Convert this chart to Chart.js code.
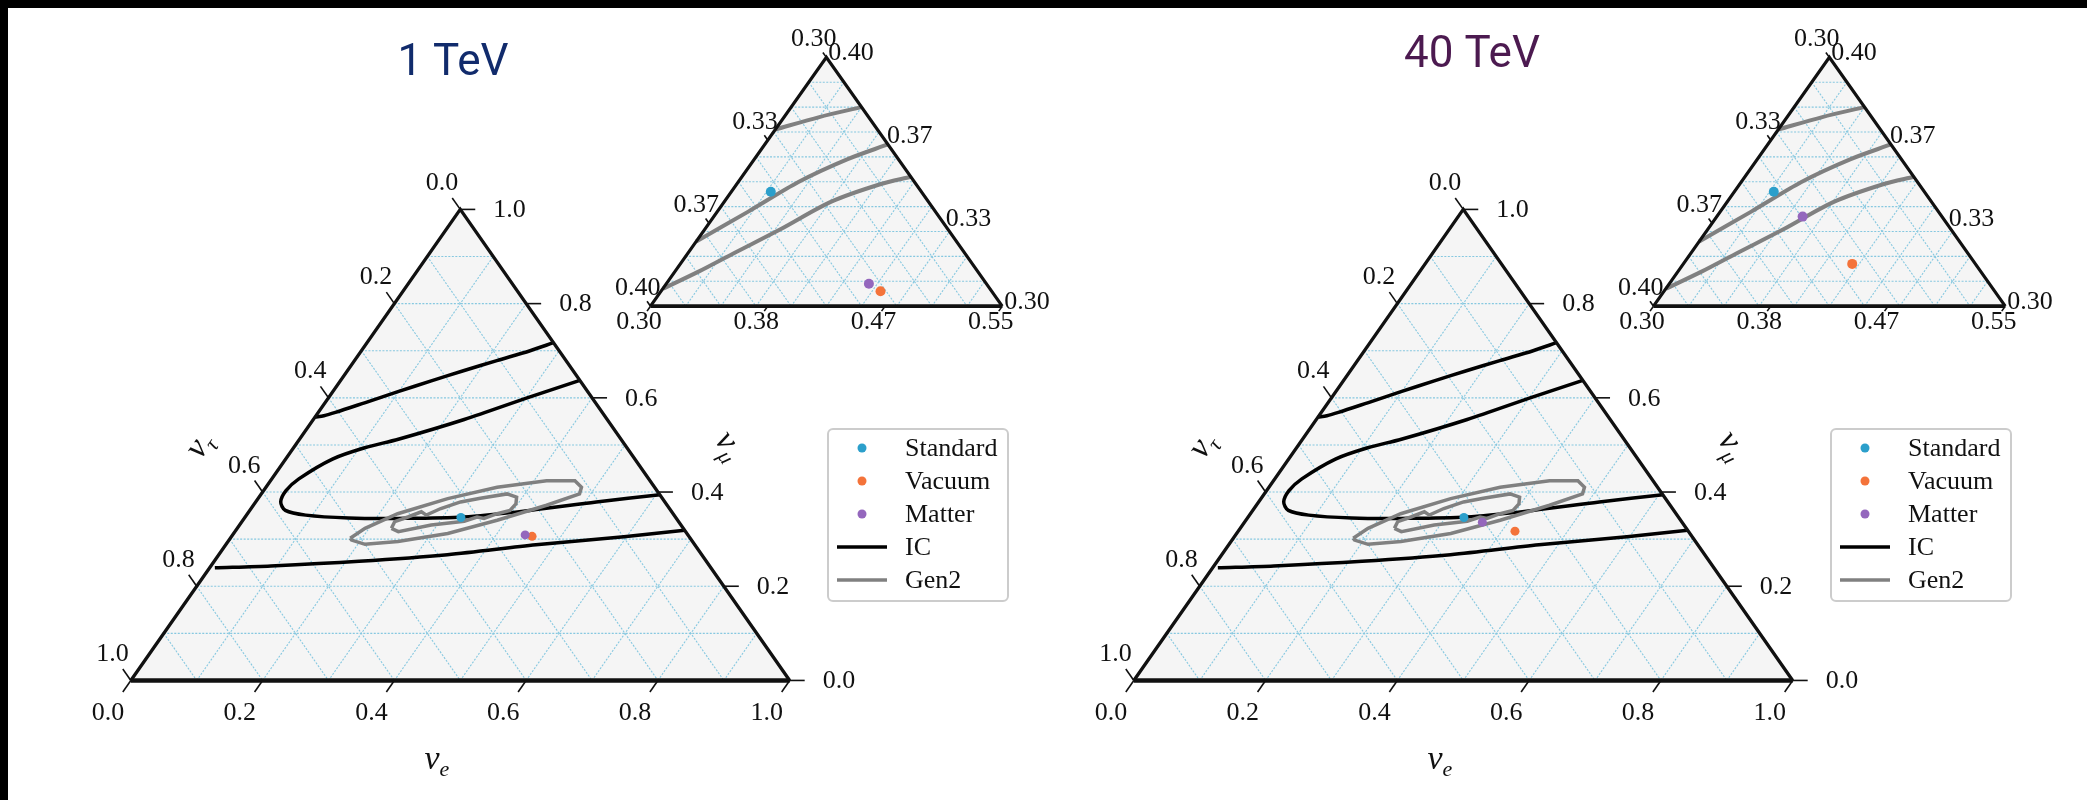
<!DOCTYPE html>
<html>
<head>
<meta charset="utf-8">
<script src="https://cdn.jsdelivr.net/npm/chart.js@4.4.1/dist/chart.umd.min.js"></script>
<style>
html, body { margin: 0; padding: 0; background: #fff; }
#page { position: relative; width: 2087px; height: 800px; overflow: hidden; background: #fff; }
#topbar { position: absolute; left: 0; top: 0; width: 2087px; height: 8px; background: #000; }
#leftbar { position: absolute; left: 0; top: 0; width: 8px; height: 800px; background: #000; }
canvas { position: absolute; top: 0; }
</style>
</head>
<body>
<div id="page">
  <canvas id="c0" width="1084" height="800" style="left:0px"></canvas>
  <canvas id="c1" width="1084" height="800" style="left:1003px"></canvas>
  <div id="topbar"></div>
  <div id="leftbar"></div>
</div>
<script>
// flavour compositions are [nu_e, nu_mu]; nu_tau = 1 - nu_e - nu_mu
const panelTitles = ['1 TeV', '40 TeV']
const titleColors = ['#112b6c', '#4c1a50']
const standardPts = [[0.328, 0.346], [0.328, 0.346]]
const vacuumPts = [[0.456, 0.306], [0.420, 0.317]]
const matterPts = [[0.444, 0.309], [0.361, 0.336]]

const mainTicks = [0.0, 0.2, 0.4, 0.6, 0.8, 1.0]
const insetETicks = [0.30, 0.3833, 0.4667, 0.55]
const insetTauTicks = [0.30, 0.3333, 0.3667, 0.40]
const insetMuTicks = [0.30, 0.3333, 0.3667, 0.40]
const insetERange = [0.30, 0.55]
const insetMuRange = [0.30, 0.40]

// IceCube contours
const icUpper = [[0.000, 0.559], [0.012, 0.562], [0.026, 0.569], [0.061, 0.590], [0.099, 0.613], [0.138, 0.636],
    [0.177, 0.658], [0.216, 0.679], [0.256, 0.700], [0.283, 0.717]]
const icInner = [[0.363, 0.637], [0.305, 0.602], [0.229, 0.554], [0.150, 0.512], [0.108, 0.494], [0.071, 0.470],
    [0.041, 0.428], [0.034, 0.403], [0.038, 0.379], [0.054, 0.361], [0.090, 0.351], [0.158, 0.345],
    [0.234, 0.344], [0.332, 0.347], [0.425, 0.361], [0.517, 0.379], [0.606, 0.394]]
const icLower = [[0.008, 0.239], [0.091, 0.243], [0.220, 0.253], [0.347, 0.267], [0.471, 0.288], [0.596, 0.305], [0.681, 0.319]]

// Gen2 contours
const gen2Outer = [[0.182, 0.302], [0.194, 0.323], [0.228, 0.354], [0.288, 0.386], [0.351, 0.410], [0.419, 0.424],
    [0.462, 0.424], [0.479, 0.410], [0.483, 0.396], [0.445, 0.372], [0.386, 0.340], [0.325, 0.312],
    [0.258, 0.295], [0.211, 0.289], [0.186, 0.298], [0.182, 0.302]]
const gen2Inner = [[0.234, 0.323], [0.232, 0.337], [0.247, 0.347], [0.262, 0.358], [0.273, 0.351], [0.288, 0.365],
    [0.311, 0.379], [0.337, 0.387], [0.373, 0.396], [0.391, 0.389], [0.397, 0.375], [0.395, 0.361],
    [0.379, 0.354], [0.364, 0.344], [0.352, 0.347], [0.337, 0.338], [0.291, 0.330], [0.248, 0.316], [0.234, 0.323]]

// Gen2 contours inside the zoomed inset
const insetA = [[0.300, 0.371], [0.325, 0.376], [0.350, 0.380]]
const insetB = [[0.300, 0.326], [0.322, 0.338], [0.343, 0.350], [0.366, 0.359], [0.3875, 0.365]]
const insetC = [[0.300, 0.307], [0.317, 0.314], [0.332, 0.321], [0.354, 0.331], [0.376, 0.342], [0.402, 0.349], [0.420, 0.352]]

const colors = { standard: '#2b9fcb', vacuum: '#f4733a', matter: '#9467bd', ic: '#000000', gen2: '#808080' }
const serif = '"Liberation Serif", "DejaVu Serif", serif'

function toMain(p) {
    return { x: p[0] + p[1] / 2, y: p[1] }
}
function toInset(p) {
    const fe = (p[0] - insetERange[0]) / (insetERange[1] - insetERange[0])
    const fm = (p[1] - insetMuRange[0]) / (insetMuRange[1] - insetMuRange[0])
    return { x: fe + fm / 2, y: fm }
}

// pixel anchors of the two triangles inside each panel canvas
const W = 1084, H = 800
function xRange(p0, p1) {
    const k = p1 - p0
    const min = -p0 / k
    return { min: min, max: min + W / k }
}
function yRange(p0, p1) {
    const k = p0 - p1
    const min = -(H - p0) / k
    return { min: min, max: min + H / k }
}
const mainX = xRange(127, 792), mainY = yRange(684, 207)
const insX = xRange(651.5, 1006.5), insY = yRange(305, 53)

function line(ctx, a, b) {
    ctx.beginPath()
    ctx.moveTo(a[0], a[1])
    ctx.lineTo(b[0], b[1])
    ctx.stroke()
}
function unit(a, b) {
    const dx = b[0] - a[0], dy = b[1] - a[1], l = Math.hypot(dx, dy)
    return [dx / l, dy / l]
}
function triFn(chart, xs, ys) {
    const sx = chart.scales[xs], sy = chart.scales[ys]
    return (e, m) => [sx.getPixelForValue(e + m / 2), sy.getPixelForValue(m)]
}
function fillAndGrid(ctx, f, n) {
    ctx.save()
    ctx.fillStyle = '#f5f5f5'
    ctx.beginPath()
    const a = f(0, 0), b = f(1, 0), c = f(0, 1)
    ctx.moveTo(a[0], a[1]); ctx.lineTo(b[0], b[1]); ctx.lineTo(c[0], c[1]); ctx.closePath()
    ctx.fill()
    ctx.strokeStyle = '#86c8e0'
    ctx.lineWidth = 1.1
    ctx.setLineDash([2, 1.5])
    for (let i = 1; i < n; i++) {
        const t = i / n
        line(ctx, f(0, t), f(1 - t, t))
        line(ctx, f(t, 0), f(t, 1 - t))
        line(ctx, f(0, 1 - t), f(1 - t, 0))
    }
    ctx.restore()
}
function edges(ctx, f, w, wb) {
    ctx.save()
    ctx.strokeStyle = '#111111'
    ctx.lineWidth = w
    ctx.lineJoin = 'miter'
    ctx.beginPath()
    const a = f(0, 0), b = f(1, 0), c = f(0, 1)
    ctx.moveTo(a[0], a[1]); ctx.lineTo(c[0], c[1]); ctx.lineTo(b[0], b[1])
    ctx.stroke()
    ctx.lineWidth = wb
    line(ctx, a, b)
    ctx.restore()
}
function drawNu(ctx, sub, x, y, rot) {
    ctx.save()
    ctx.translate(x, y)
    ctx.rotate(rot)
    ctx.fillStyle = '#111111'
    ctx.textAlign = 'left'
    ctx.textBaseline = 'alphabetic'
    ctx.font = 'italic 34px ' + serif
    const w1 = ctx.measureText('ν').width
    ctx.font = 'italic 22px ' + serif
    const w2 = ctx.measureText(sub).width
    const x0 = -(w1 + w2) / 2
    ctx.font = 'italic 34px ' + serif
    ctx.fillText('ν', x0, 4)
    ctx.font = 'italic 22px ' + serif
    ctx.fillText(sub, x0 + w1, 11)
    ctx.restore()
}

const ternaryPlugin = {
    id: 'ternary',
    beforeDatasetsDraw(chart) {
        const ctx = chart.ctx
        fillAndGrid(ctx, triFn(chart, 'x', 'y'), 10)
        fillAndGrid(ctx, triFn(chart, 'xi', 'yi'), 10)
    },
    afterDatasetsDraw(chart, args, opts) {
        const ctx = chart.ctx
        const P = triFn(chart, 'x', 'y')
        const Q = triFn(chart, 'xi', 'yi')
        edges(ctx, P, 3.3, 4.5)
        edges(ctx, Q, 3.2, 3.8)

        ctx.save()
        ctx.fillStyle = '#111111'
        ctx.strokeStyle = '#111111'
        ctx.lineWidth = 1.6
        ctx.font = '26px ' + serif

        // main triangle ticks
        const dB = unit(P(0, 1), P(0, 0))
        const dL = unit(P(1, 0), P(0, 1))
        ctx.textAlign = 'center'
        ctx.textBaseline = 'middle'
        for (const v of mainTicks) {
            const p = P(v, 0)
            line(ctx, p, [p[0] + dB[0] * 14, p[1] + dB[1] * 14])
            ctx.fillText(v.toFixed(1), p[0] + dB[0] * 40, p[1] + dB[1] * 40)
            const q = P(0, 1 - v)
            line(ctx, q, [q[0] + dL[0] * 14, q[1] + dL[1] * 14])
            ctx.fillText(v.toFixed(1), q[0] + dL[0] * 32, q[1] + dL[1] * 32)
        }
        ctx.textAlign = 'left'
        for (const v of mainTicks) {
            const p = P(1 - v, v)
            line(ctx, p, [p[0] + 15, p[1]])
            ctx.fillText(v.toFixed(1), p[0] + 33, p[1] + 1)
        }

        // inset ticks
        const iB = unit(Q(0, 1), Q(0, 0))
        const iL = unit(Q(1, 0), Q(0, 1))
        ctx.textAlign = 'center'
        for (const v of insetETicks) {
            const p = Q((v - insetETicks[0]) / (insetETicks[3] - insetETicks[0]), 0)
            line(ctx, p, [p[0] + iB[0] * 6, p[1] + iB[1] * 6])
            ctx.fillText(v.toFixed(2), p[0] + iB[0] * 20, p[1] + iB[1] * 20)
        }
        for (const v of insetTauTicks) {
            const ft = (v - insetTauTicks[0]) / (insetTauTicks[3] - insetTauTicks[0])
            const p = Q(0, 1 - ft)
            line(ctx, p, [p[0] + iL[0] * 6, p[1] + iL[1] * 6])
            ctx.fillText(v.toFixed(2), p[0] + iL[0] * 22, p[1] + iL[1] * 22)
        }
        ctx.textAlign = 'left'
        for (const v of insetMuTicks) {
            const fm = (v - insetMuTicks[0]) / (insetMuTicks[3] - insetMuTicks[0])
            const p = Q(1 - fm, fm)
            ctx.fillText(v.toFixed(2), p[0] + 2, p[1] - 4)
        }
        ctx.restore()

        // axis titles
        const bl = P(0, 0), br = P(1, 0), top = P(0, 1)
        const angL = Math.atan2(top[1] - bl[1], top[0] - bl[0])
        const angR = Math.atan2(br[1] - top[1], br[0] - top[0])
        drawNu(ctx, 'e', bl[0] + 306, bl[1] + 85, 0)
        drawNu(ctx, 'τ', bl[0] + 73, bl[1] - 232, angL)
        drawNu(ctx, 'μ', bl[0] + 594, bl[1] - 232, angR)

        // panel title
        ctx.save()
        ctx.font = '44px Roboto, "Liberation Sans", sans-serif'
        ctx.fillStyle = opts.color
        ctx.textAlign = 'center'
        ctx.textBaseline = 'alphabetic'
        ctx.fillText(opts.title, opts.titleX, opts.titleY)
        ctx.restore()

        // legend
        ctx.save()
        const lx = 828, ly = 429, lw = 180, lh = 172
        ctx.fillStyle = 'rgba(255,255,255,0.85)'
        ctx.strokeStyle = '#cccccc'
        ctx.lineWidth = 2
        ctx.beginPath()
        ctx.roundRect(lx, ly, lw, lh, 5)
        ctx.fill()
        ctx.stroke()
        ctx.font = '26px ' + serif
        ctx.textAlign = 'left'
        ctx.textBaseline = 'middle'
        opts.items.forEach((it, i) => {
            const yy = ly + 19 + i * 33
            if (it.kind === 'dot') {
                ctx.fillStyle = it.color
                ctx.beginPath()
                ctx.arc(lx + 34, yy, 4.5, 0, Math.PI * 2)
                ctx.fill()
            } else {
                ctx.strokeStyle = it.color
                ctx.lineWidth = 3.5
                line(ctx, [lx + 9, yy], [lx + 59, yy])
            }
            ctx.fillStyle = '#111111'
            ctx.fillText(it.label, lx + 77, yy + 1)
        })
        ctx.restore()
    }
}

function curve(data, color, width, axis, tension) {
    const conv = axis === 'i' ? toInset : toMain
    return {
        data: data.map(conv),
        showLine: true,
        borderColor: color,
        borderWidth: width,
        pointRadius: 0,
        tension: tension,
        fill: false,
        xAxisID: axis === 'i' ? 'xi' : 'x',
        yAxisID: axis === 'i' ? 'yi' : 'y'
    }
}
function dots(p, color, axis, r) {
    const conv = axis === 'i' ? toInset : toMain
    return {
        data: [conv(p)],
        backgroundColor: color,
        borderWidth: 0,
        pointRadius: r,
        xAxisID: axis === 'i' ? 'xi' : 'x',
        yAxisID: axis === 'i' ? 'yi' : 'y'
    }
}

const legendItems = [
    { label: 'Standard', kind: 'dot', color: colors.standard },
    { label: 'Vacuum', kind: 'dot', color: colors.vacuum },
    { label: 'Matter', kind: 'dot', color: colors.matter },
    { label: 'IC', kind: 'line', color: colors.ic },
    { label: 'Gen2', kind: 'line', color: colors.gen2 }
]
const titlePos = [[453, 75], [469, 67]]

panelTitles.forEach((title, i) => {
    const ctx = document.getElementById('c' + i).getContext('2d')
    new Chart(ctx, {
        type: 'scatter',
        data: {
            datasets: [
                dots(standardPts[i], colors.standard, 'm', 4.5),
                dots(matterPts[i], colors.matter, 'm', 4.5),
                dots(vacuumPts[i], colors.vacuum, 'm', 4.5),
                dots(standardPts[i], colors.standard, 'i', 5),
                dots(matterPts[i], colors.matter, 'i', 5),
                dots(vacuumPts[i], colors.vacuum, 'i', 5),
                curve(gen2Outer, colors.gen2, 3.5, 'm', 0),
                curve(gen2Inner, colors.gen2, 3.5, 'm', 0),
                curve(icUpper, colors.ic, 3.5, 'm', 0.3),
                curve(icInner, colors.ic, 3.5, 'm', 0.3),
                curve(icLower, colors.ic, 3.5, 'm', 0.3),
                curve(insetA, colors.gen2, 4, 'i', 0.3),
                curve(insetB, colors.gen2, 4, 'i', 0.3),
                curve(insetC, colors.gen2, 4, 'i', 0.3)
            ]
        },
        options: {
            responsive: false,
            animation: false,
            devicePixelRatio: 1,
            layout: { padding: 0 },
            scales: {
                x: { type: 'linear', display: false, bounds: 'data', min: mainX.min, max: mainX.max },
                y: { type: 'linear', display: false, bounds: 'data', min: mainY.min, max: mainY.max },
                xi: { type: 'linear', display: false, bounds: 'data', min: insX.min, max: insX.max },
                yi: { type: 'linear', display: false, bounds: 'data', min: insY.min, max: insY.max }
            },
            plugins: {
                legend: { display: false },
                tooltip: { enabled: false },
                ternary: {
                    title: title,
                    color: titleColors[i],
                    titleX: titlePos[i][0],
                    titleY: titlePos[i][1],
                    items: legendItems
                }
            }
        },
        plugins: [ternaryPlugin]
    })
})
</script>
</body>
</html>
